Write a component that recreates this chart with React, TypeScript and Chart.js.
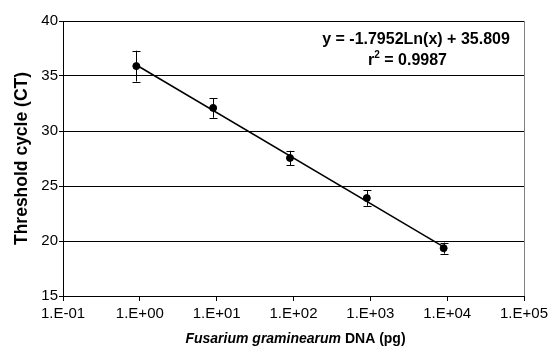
import React, { useEffect, useRef } from "react";
import { Chart, registerables } from "chart.js";

Chart.register(...registerables);

const dnaAmounts = [0.9, 9, 90, 900, 9000];
const ctMeans = [35.9, 32.1, 27.55, 23.9, 19.35];
const ctErrors = [1.4, 0.9, 0.65, 0.7, 0.5];
const trendX = [0.9, 9000];
const trendY = [36.0, 19.46];
const xTickValues = [0.1, 1, 10, 100, 1000, 10000, 100000];
const xTickLabels = ["1.E-01", "1.E+00", "1.E+01", "1.E+02", "1.E+03", "1.E+04", "1.E+05"];
const yTickValues = [15, 20, 25, 30, 35, 40];
const equationText = "y = -1.7952Ln(x) + 35.809";
const r2Label = "r";
const r2Value = " = 0.9987";
const yTitle = "Threshold cycle (CT)";
const xTitleItalic = "Fusarium graminearum";
const xTitleRest = " DNA (pg)";

const FONT = "'Liberation Sans', Arial, sans-serif";

const extrasPlugin = {
  id: "extras",
  afterDatasetsDraw(chart: any) {
    const ctx = chart.ctx;
    const xs = chart.scales.x;
    const ys = chart.scales.y;
    const area = chart.chartArea;
    ctx.save();
    // error bars
    ctx.strokeStyle = "#000";
    ctx.lineWidth = 1;
    dnaAmounts.forEach((v, i) => {
      const px = Math.round(xs.getPixelForValue(v)) + 0.5;
      const top = ys.getPixelForValue(ctMeans[i] + ctErrors[i]);
      const bot = ys.getPixelForValue(ctMeans[i] - ctErrors[i]);
      ctx.beginPath();
      ctx.moveTo(px, top);
      ctx.lineTo(px, bot);
      ctx.moveTo(px - 4, Math.round(top) + 0.5);
      ctx.lineTo(px + 4, Math.round(top) + 0.5);
      ctx.moveTo(px - 4, Math.round(bot) + 0.5);
      ctx.lineTo(px + 4, Math.round(bot) + 0.5);
      ctx.stroke();
    });
    // right border
    ctx.strokeStyle = "#808080";
    ctx.beginPath();
    ctx.moveTo(Math.round(area.right) + 0.5, area.top);
    ctx.lineTo(Math.round(area.right) + 0.5, area.bottom);
    ctx.stroke();
    // equation
    ctx.fillStyle = "#000";
    ctx.textBaseline = "alphabetic";
    ctx.font = `bold 16px ${FONT}`;
    ctx.textAlign = "center";
    ctx.fillText(equationText, 416, 44);
    // r^2
    ctx.textAlign = "left";
    ctx.font = `bold 16px ${FONT}`;
    const wR = ctx.measureText(r2Label).width;
    ctx.font = `bold 10px ${FONT}`;
    const w2 = ctx.measureText("2").width;
    ctx.font = `bold 16px ${FONT}`;
    const wV = ctx.measureText(r2Value).width;
    const total = wR + w2 + wV;
    const sx = 407.5 - total / 2;
    ctx.fillText(r2Label, sx, 65);
    ctx.font = `bold 10px ${FONT}`;
    ctx.fillText("2", sx + wR, 58);
    ctx.font = `bold 16px ${FONT}`;
    ctx.fillText(r2Value, sx + wR + w2, 65);
    // y title
    ctx.save();
    ctx.translate(22, (area.top + area.bottom) / 2);
    ctx.rotate(-Math.PI / 2);
    ctx.textAlign = "center";
    ctx.textBaseline = "middle";
    ctx.font = `bold 17.5px ${FONT}`;
    ctx.fillText(yTitle, 0, 0);
    ctx.restore();
    // x title
    ctx.font = `italic bold 14px ${FONT}`;
    const wI = ctx.measureText(xTitleItalic).width;
    ctx.font = `bold 14px ${FONT}`;
    const wRest = ctx.measureText(xTitleRest).width;
    const cx = (area.left + area.right) / 2 + 2;
    const startX = cx - (wI + wRest) / 2;
    ctx.textAlign = "left";
    ctx.textBaseline = "alphabetic";
    ctx.font = `italic bold 14px ${FONT}`;
    ctx.fillText(xTitleItalic, startX, 343);
    ctx.font = `bold 14px ${FONT}`;
    ctx.fillText(xTitleRest, startX + wI, 343);
    ctx.restore();
  },
};

export default function App() {
  const ref = useRef<HTMLCanvasElement | null>(null);
  useEffect(() => {
    if (!ref.current) return;
    const chart = new Chart(ref.current, {
      type: "scatter",
      data: {
        datasets: [
          {
            label: "CT",
            data: dnaAmounts.map((x, i) => ({ x, y: ctMeans[i] })),
            pointRadius: 3.5,
            pointBackgroundColor: "#000",
            pointBorderColor: "#000",
            showLine: false,
            order: 0,
          },
          {
            label: "trend",
            data: trendX.map((x, i) => ({ x, y: trendY[i] })),
            showLine: true,
            pointRadius: 0,
            borderColor: "#000",
            borderWidth: 1.5,
            order: 1,
          },
        ],
      },
      options: {
        responsive: false,
        animation: false,
        devicePixelRatio: 1,
        layout: { padding: { top: 21, right: 34, left: 0, bottom: 0 } },
        plugins: {
          legend: { display: false },
          tooltip: { enabled: false },
        },
        scales: {
          x: {
            type: "logarithmic",
            min: 0.1,
            max: 100000,
            afterBuildTicks: (scale: any) => {
              scale.ticks = xTickValues.map((v) => ({ value: v }));
            },
            afterFit: (scale: any) => {
              scale.height = 50;
            },
            ticks: {
              autoSkip: false,
              maxRotation: 0,
              padding: 4,
              color: "#000",
              font: { family: FONT, size: 15 },
              callback: (_v: any, i: number) => xTickLabels[i],
            },
            grid: {
              drawOnChartArea: false,
              drawTicks: true,
              tickLength: 5,
              color: "#000",
            },
            border: { display: true, color: "#000", width: 1 },
          },
          y: {
            min: 15,
            max: 40,
            afterBuildTicks: (scale: any) => {
              scale.ticks = yTickValues.map((v) => ({ value: v }));
            },
            afterFit: (scale: any) => {
              scale.width = 63;
            },
            ticks: {
              padding: 1,
              color: "#000",
              font: { family: FONT, size: 15 },
            },
            grid: {
              color: "#000",
              tickLength: 4,
              lineWidth: 1,
            },
            border: { display: true, color: "#000", width: 1 },
          },
        },
      },
      plugins: [extrasPlugin],
    });
    return () => chart.destroy();
  }, []);
  return (
    <div style={{ position: "absolute", left: 0, top: 0, width: 558, height: 346, background: "#fff" }}>
      <canvas ref={ref} width={558} height={346} style={{ display: "block" }} />
    </div>
  );
}
